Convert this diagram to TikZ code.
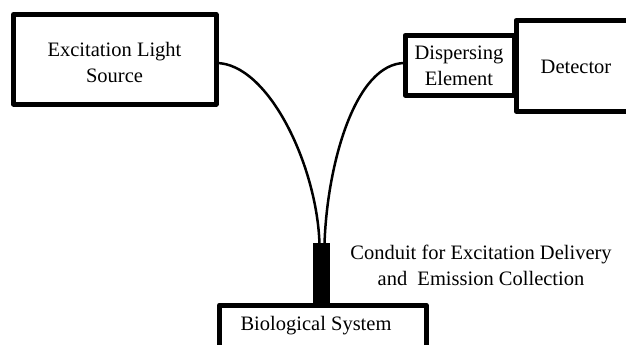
\documentclass[tikz,border=0pt]{standalone}
\usepackage{fontspec}
\setmainfont{Liberation Serif}
\begin{document}
\begin{tikzpicture}[x=1pt,y=-1pt,
  boxline/.style={line width=5pt, line join=round},
  fiber/.style={line width=2.5pt},
  lbl/.style={font=\fontsize{20.5}{26}\selectfont, align=center, inner sep=0pt}]
\useasboundingbox (0,0) rectangle (626,345);
\clip (0,0) rectangle (626,345);
% boxes
\draw[boxline] (13.5,14.5) rectangle (216,104);
\node[lbl] (els) at (114.5,62) {Excitation Light\\Source};
\draw[boxline] (405,35.5) rectangle (514,95);
\node[lbl] (de) at (459,66) {Dispersing\\Element};
\draw[boxline] (516,20.5) rectangle (640,111);
\node[lbl] (det) at (576,67) {Detector};
\draw[boxline] (219.5,305) rectangle (426,360);
\node[lbl] (bio) at (316,326) {Biological System};
% conduit
\fill (313,243) rectangle (330,303);
\coordinate (cl) at (319.5,244);
\coordinate (cr) at (324.5,244);
\coordinate (ls) at (216,63);
\coordinate (rs) at (405,63);
\draw[fiber] (ls) .. controls (268,63) and (317,165) .. (cl);
\draw[fiber] (rs) .. controls (355,63) and (327,165) .. (cr);
\node[lbl] (cond) at (481,265) {Conduit for Excitation Delivery\\and\ \ Emission Collection};
\end{tikzpicture}
\end{document}
